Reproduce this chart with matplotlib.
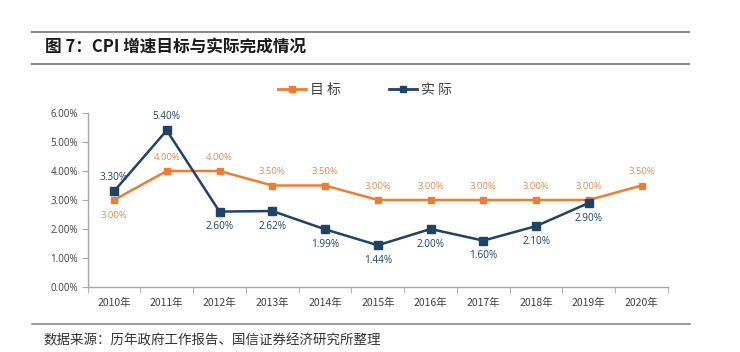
import matplotlib
matplotlib.use("Agg")
import matplotlib.pyplot as plt
from matplotlib.lines import Line2D
from matplotlib.ticker import FuncFormatter, MultipleLocator
import numpy as np

plt.rcParams['font.family'] = ['Noto Sans CJK SC', 'DejaVu Sans']

years = ["2010年", "2011年", "2012年", "2013年", "2014年", "2015年",
         "2016年", "2017年", "2018年", "2019年", "2020年"]
target = [3.00, 4.00, 4.00, 3.50, 3.50, 3.00, 3.00, 3.00, 3.00, 3.00, 3.50]
actual = [3.30, 5.40, 2.60, 2.62, 1.99, 1.44, 2.00, 1.60, 2.10, 2.90]
target_label_pos = ["below", "above", "above", "above", "above", "above",
                    "above", "above", "above", "above", "above"]
actual_label_pos = ["above", "above", "below", "below", "below", "below",
                    "below", "below", "below", "below"]

title = "图 7：CPI 增速目标与实际完成情况"
source = "数据来源：历年政府工作报告、国信证券经济研究所整理"

ORANGE = "#ED7D31"
ORANGE_TXT = "#E08A50"
BLUE = "#1F4268"
GRAY = "#A6A6A6"

W, H = 740, 352
fig = plt.figure(figsize=(W / 100, H / 100), dpi=100)

ax_l, ax_r, ax_t, ax_b = 87.6, 668, 113, 287
ax = fig.add_axes([ax_l / W, 1 - ax_b / H, (ax_r - ax_l) / W, (ax_b - ax_t) / H])

x = np.arange(len(years))
ax.plot(x, target, color=ORANGE, lw=1.8, marker="s", ms=5, zorder=3)
xa = np.arange(len(actual))
ax.plot(xa, actual, color=BLUE, lw=1.8, marker="s", ms=6, zorder=4)

for xi, v, p in zip(x, target, target_label_pos):
    off = 10 if p == "above" else -11
    ax.annotate(f"{v:.2f}%", (xi, v), xytext=(0, off), textcoords="offset points",
                ha="center", va="center", fontsize=6.8, color=ORANGE_TXT,
                family=["Open Sans", "DejaVu Sans"])
for xi, v, p in zip(xa, actual, actual_label_pos):
    off = 10 if p == "above" else -11
    ax.annotate(f"{v:.2f}%", (xi, v), xytext=(0, off), textcoords="offset points",
                ha="center", va="center", fontsize=7.2, color=BLUE,
                family=["Open Sans", "DejaVu Sans"])

ax.set_xlim(-0.5, len(years) - 0.5)
ax.set_ylim(0, 6)
ax.yaxis.set_major_locator(MultipleLocator(1))
ax.yaxis.set_major_formatter(FuncFormatter(lambda v, _: f"{v:.2f}%"))
ax.set_xticks(x)
ax.set_xticklabels(years)
ax.set_xticks(np.arange(-0.5, len(years), 1), minor=True)
ax.tick_params(axis="x", which="major", length=0, pad=8, labelsize=7.5, colors="#404040")
ax.tick_params(axis="x", which="minor", length=4, color=GRAY, direction="out")
ax.tick_params(axis="y", length=4, color=GRAY, labelsize=7, colors="#404040", pad=3)
for lbl in ax.get_yticklabels():
    lbl.set_family(["Open Sans", "DejaVu Sans"])
for s in ["top", "right"]:
    ax.spines[s].set_visible(False)
for s in ["left", "bottom"]:
    ax.spines[s].set_color(GRAY)
    ax.spines[s].set_linewidth(1)

handles = [Line2D([], [], color=ORANGE, lw=2, marker="s", ms=4),
           Line2D([], [], color=BLUE, lw=2, marker="s", ms=5)]
fig.legend(handles, ["目 标", "实 际"], loc="center", bbox_to_anchor=(365 / W, 1 - 90 / H),
           ncol=2, frameon=False, fontsize=10, handlelength=2.0, handletextpad=0.3,
           columnspacing=3.5, labelcolor="#404040")

# header / footer decorations
fig.add_artist(Line2D([32 / W, 689 / W], [1 - 32 / H, 1 - 32 / H], color="#8C8C8C", lw=1.5))
fig.add_artist(Line2D([32 / W, 689 / W], [1 - 64 / H, 1 - 64 / H], color="#8C8C8C", lw=1.5))
fig.add_artist(Line2D([32 / W, 690 / W], [1 - 324 / H, 1 - 324 / H], color="#8C8C8C", lw=1.2))
fig.text(45 / W, 1 - 48 / H, title, fontsize=12, fontweight="bold", va="center", ha="left",
         color="#1a1a1a")
fig.text(43 / W, 1 - 340 / H, source, fontsize=9.7, va="center", ha="left", color="#333333")

fig.savefig("out.png", dpi=100, facecolor="white")
